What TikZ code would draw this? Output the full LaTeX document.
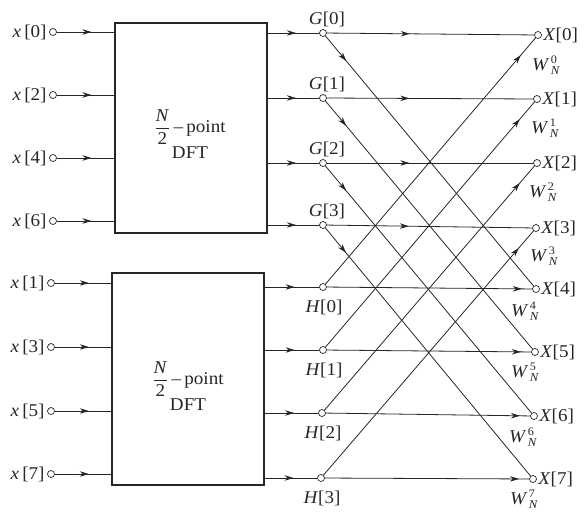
\documentclass[tikz,border=0pt]{standalone}
\usepackage{fontspec}
\setmainfont{Liberation Serif}
\usetikzlibrary{arrows.meta,decorations.markings}
\newcommand{\tx}[1]{\scalebox{1.06}[1]{#1}}
\newcommand{\wlab}[1]{\tx{\textit{W}\kern1.5pt\rlap{\raisebox{7pt}{\fontsize{11.5}{12}\selectfont #1}}\raisebox{-4pt}{\fontsize{12}{12}\selectfont\textit{N}}}}
\begin{document}
\begin{tikzpicture}[x=1pt,y=-1pt,
  line width=0.8pt, color=black!85,
  port/.style={circle,draw,fill=white,minimum size=7pt,inner sep=0pt,line width=0.7pt},
  lbl/.style={font=\fontsize{18}{20}\selectfont,inner sep=0pt},
  dftbox/.style={draw,line width=1.1pt,inner sep=0pt},
  arr/.style={postaction={decorate},decoration={markings,mark=at position #1 with {\arrow{Stealth[length=9pt,width=5.5pt]}}}},
]
\useasboundingbox (0,0) rectangle (584,512);

% DFT boxes
\node[dftbox,minimum width=152pt,minimum height=210pt] (b1) at (191,128) {};
\node[dftbox,minimum width=152pt,minimum height=212pt] (b2) at (188,379) {};
\node[lbl,align=center] (t1) at (190,134) {\tx{$\displaystyle\frac{\mbox{\textit{N}}}{\mbox{2}}$\,--\,point}\\[1pt]\tx{DFT}};
\node[lbl,align=center] (t2) at (188,386) {\tx{$\displaystyle\frac{\mbox{\textit{N}}}{\mbox{2}}$\,--\,point}\\[1pt]\tx{DFT}};

% inputs
\foreach \n/\y in {0/32,2/95,4/158,6/221}{
  \node[port] (in\n) at (53,\y) {};
  \node[lbl,anchor=east] (inl\n) at (47,\y) {\tx{\textit{x}\,[\n]}};
  \draw[arr=0.6] (in\n) -- (in\n -| b1.west);
}
\foreach \n/\y in {1/283,3/347,5/411,7/474}{
  \node[port] (in\n) at (51,\y) {};
  \node[lbl,anchor=east] (inl\n) at (45,\y) {\tx{\textit{x}\,[\n]}};
  \draw[arr=0.6] (in\n) -- (in\n -| b2.west);
}

% G and H nodes
\foreach \k/\y in {0/33,1/98,2/163,3/225}{
  \node[port] (g\k) at (323,\y) {};
  \node[lbl] (gl\k) at (327,\y-14) {\tx{\textit{G}[\k]}};
  \draw[arr=0.55] (g\k -| b1.east) -- (g\k);
}
\foreach \k/\y/\xx in {0/287/323,1/350/323,2/413/322,3/478/321}{
  \node[port] (h\k) at (\xx,\y) {};
  \node[lbl] (hl\k) at (\xx+1,\y+20) {\tx{\textit{H}[\k]}};
  \draw[arr=0.55] (h\k -| b2.east) -- (h\k);
}

% outputs
\foreach \k/\xx/\y/\dx/\dy in {0/538/35/8/20,1/537/99/8/20,2/537/163/6/19,3/536/228/8/18,4/536/289/-11/13,5/535/352/-10/11,6/534/416/-11/11,7/533/479/-9/11}{
  \node[port] (X\k) at (\xx,\y) {};
  \node[lbl,anchor=west] (Xl\k) at (\xx+5,\y) {\tx{\textit{X}[\k]}};
  \node[lbl,anchor=north] (W\k) at (\xx+\dx,\y+\dy) {\wlab{\k}};
}

% butterflies
\foreach \k/\j in {0/4,1/5,2/6,3/7}{
  \draw[arr=0.4] (g\k) -- (X\k);
  \draw[arr=0.1] (g\k) -- (X\j);
  \draw[arr=0.95] (h\k) -- (X\j);
  \draw[arr=0.93] (h\k) -- (X\k);
}
\end{tikzpicture}
\end{document}
